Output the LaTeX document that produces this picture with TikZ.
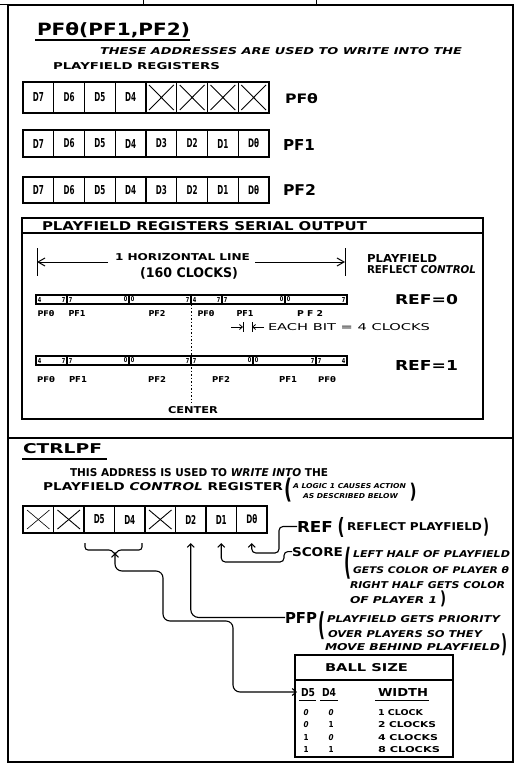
\documentclass[tikz,border=0pt]{standalone}
\usepackage{fontspec}
\setmainfont{DejaVu Sans}
\usepackage{graphicx}
\usetikzlibrary{arrows.meta,calc}
\newcommand{\tx}[3]{\resizebox{#1pt}{#2pt}{\bfseries #3}}
\newcommand{\txr}[3]{\resizebox{#1pt}{#2pt}{#3}}
\newcommand{\pa}[3]{\resizebox*{#1pt}{#2pt}{\bfseries #3}}
\newcommand{\dg}[1]{\resizebox{3.5pt}{5pt}{\bfseries #1}}
\tikzset{
  t/.style={anchor=base west, inner sep=0pt, outer sep=0pt},
  tc/.style={anchor=base, inner sep=0pt, outer sep=0pt},
  pc/.style={anchor=center, inner sep=0pt, outer sep=0pt},
  cellbox/.style={draw, line width=1.2pt, inner sep=0pt, outer sep=0pt},
  barseg/.style={draw, line width=1.1pt, minimum height=9pt, inner sep=0pt, outer sep=0pt},
  arr/.style={line width=1.1pt, -{Straight Barb[length=3.5pt,width=7pt]}, rounded corners=5pt},
  harr/.style={line width=1pt, -{Straight Barb[length=7pt,width=8pt]}},
  xl/.style={line width=0.9pt},
  fr/.style={line width=1.5pt},
}
\begin{document}
\begin{tikzpicture}[x=1pt,y=-1pt]
\useasboundingbox (0,0) rectangle (521,773);
\fill[white] (0,0) rectangle (521,773);
% frame
\draw[fr] (8,5) rectangle (513,762);
\draw[fr] (8,438) -- (513,438);
\draw[line width=1pt] (0,5) -- (8,5);
\draw[line width=0.8pt] (143,0) -- (143,5);
\draw[line width=0.8pt] (316,0) -- (316,5);

% ---------- top panel ----------
\node[t] (tTitle) at (37,36) {\tx{153}{13}{PFθ(PF1,PF2)}};
\draw[line width=1.2pt] (35,40) -- (190,40);
\node[t] (tThese) at (100,55) {\tx{362}{7}{\itshape THESE ADDRESSES ARE USED TO WRITE INTO THE}};
\node[t] (tPlay) at (53,70) {\tx{167}{7}{PLAYFIELD REGISTERS}};

% PF0 register
\foreach \i/\lab in {1/D7,2/D6,3/D5,4/D4}
  \node[cellbox, minimum width=30.75pt, minimum height=31pt] (a\i) at ({23+30.75*(\i-0.5)},97.5) {\tx{11}{9}{\lab}};
\foreach \i in {5,...,8} {
  \node[cellbox, minimum width=30.75pt, minimum height=31pt] (a\i) at ({23+30.75*(\i-0.5)},97.5) {};
  \draw[xl] ($(a\i.north west)+(3,3)$) -- ($(a\i.south east)+(-3,-3)$);
  \draw[xl] ($(a\i.north east)+(-3,3)$) -- ($(a\i.south west)+(3,-3)$);
}
\node[t] (lA) at (285,103) {\tx{33}{10}{PFθ}};

% PF1 register
\foreach \i/\lab in {1/D7,2/D6,3/D5,4/D4,5/D3,6/D2,7/D1,8/Dθ}
  \node[cellbox, minimum width=30.75pt, minimum height=27pt] (b\i) at ({23+30.75*(\i-0.5)},143.5) {\tx{11}{9}{\lab}};
\node[t] (lB) at (283,150) {\tx{32}{11}{PF1}};

% PF2 register
\foreach \i/\lab in {1/D7,2/D6,3/D5,4/D4,5/D3,6/D2,7/D1,8/Dθ}
  \node[cellbox, minimum width=30.75pt, minimum height=26pt] (c\i) at ({23+30.75*(\i-0.5)},190) {\tx{11}{9}{\lab}};
\node[t] (lC) at (283,195) {\tx{33}{11}{PF2}};

% ---------- serial output box ----------
\draw[line width=1.2pt] (22,218) rectangle (483,419);
\draw[line width=1.2pt] (22,233) -- (483,233);
\node[t] (tSer) at (42,230) {\tx{325}{9}{PLAYFIELD REGISTERS SERIAL OUTPUT}};

\draw[line width=1pt] (37,248) -- (37,276);
\draw[line width=1pt] (345,248) -- (345,276);
\coordinate (hL) at (37,262);
\coordinate (hR) at (345,262);
\coordinate (hLs) at (108,262);
\coordinate (hRs) at (255,262);
\draw[harr] (hLs) -- (hL);
\draw[harr] (hRs) -- (hR);
\node[t] (tHor) at (115,260) {\tx{135}{7}{1 HORIZONTAL LINE}};
\node[t] (tClk) at (140,277) {\tx{98}{10}{(160 CLOCKS)}};
\node[t] (tPlf) at (367,262) {\tx{70}{8}{PLAYFIELD}};
\node[t] (tRfc) at (367,273) {\tx{109}{8}{REFLECT \itshape CONTROL}};

% REF=0 bar
\foreach \i/\cx/\ww/\lft/\rgt in {1/51.5/31/4/7, 2/98/62/7/0, 3/160/62/0/7, 4/206.5/31/4/7, 5/253.5/63/7/0, 6/316/62/0/7} {
  \node[barseg, minimum width=\ww pt] (z0s\i) at (\cx,299.5) {};
  \node[pc] (z0l\i) at ($(z0s\i.west)+(3.5,0)$) {\dg{\lft}};
  \node[pc] (z0r\i) at ($(z0s\i.east)+(-3.5,0)$) {\dg{\rgt}};
}
\foreach \i/\cx/\lab in {1/46/PFθ, 2/77/PF1, 3/157/PF2, 4/206/PFθ, 5/245/PF1}
  \node[tc] (z0n\i) at (\cx,316) {\tx{17}{6}{\lab}};
\node[tc] (z0n6) at (310,316) {\tx{26}{6}{P F 2}};
\node[t] (tRef0) at (395,304) {\tx{63}{10}{REF=0}};

% each bit annotation
\draw[line width=0.8pt] (243,322) -- (243,332);
\draw[line width=0.8pt] (252,322) -- (252,332);
\coordinate (eA) at (231,327);
\coordinate (eB) at (243,327);
\coordinate (eC) at (264,327);
\coordinate (eD) at (252,327);
\draw[line width=0.8pt, -{Straight Barb[length=3pt,width=5pt]}] (eA) -- (eB);
\draw[line width=0.8pt, -{Straight Barb[length=3pt,width=5pt]}] (eC) -- (eD);
\node[t] (tEach) at (268,330) {\txr{162}{7}{EACH BIT = 4 CLOCKS}};

% REF=1 bar
\foreach \i/\cx/\ww/\lft/\rgt in {1/51.5/31/4/7, 2/98/62/7/0, 3/160/62/0/7, 4/222/62/7/0, 5/284.5/63/0/7, 6/331.5/31/7/4} {
  \node[barseg, minimum width=\ww pt] (z1s\i) at (\cx,360.5) {};
  \node[pc] (z1l\i) at ($(z1s\i.west)+(3.5,0)$) {\dg{\lft}};
  \node[pc] (z1r\i) at ($(z1s\i.east)+(-3.5,0)$) {\dg{\rgt}};
}
\foreach \i/\cx/\lab in {1/46/PFθ, 2/78/PF1, 3/157/PF2, 4/221/PF2, 5/288/PF1, 6/327/PFθ}
  \node[tc] (z1n\i) at (\cx,382) {\tx{18}{6}{\lab}};
\node[t] (tRef1) at (395,370) {\tx{63}{10}{REF=1}};

% center line
\node[t] (tCen) at (168,413) {\tx{50}{7}{CENTER}};
\coordinate (cenB) at (191,403);
\draw[line width=1pt, dash pattern=on 1.5pt off 2pt] (z0s4.south west) -- (cenB);

% ---------- lower panel ----------
\node[t] (tCtrl) at (23,453) {\tx{79}{10}{CTRLPF}};
\draw[line width=1.2pt] (22,459) -- (107,459);
\node[t] (tThis) at (70,476) {\tx{258}{8}{THIS ADDRESS IS USED TO {\itshape WRITE INTO} THE}};
\node[t] (tPCR) at (43,490) {\tx{240}{8}{PLAYFIELD {\itshape CONTROL} REGISTER}};
\node[pc] (pL1) at (288,490) {\pa{8}{24}{(}};
\node[t] (tLog) at (293,488) {\tx{113}{5}{\itshape A LOGIC 1 CAUSES ACTION}};
\node[t] (tDes) at (303,498) {\tx{95}{5}{\itshape AS DESCRIBED BELOW}};
\node[pc] (pR1) at (413,492) {\pa{7}{18}{)}};

% CTRLPF register
\foreach \i/\lab in {3/D5,4/D4,6/D2,7/D1,8/Dθ}
  \node[cellbox, minimum width=30.5pt, minimum height=27pt] (k\i) at ({23+30.5*(\i-0.5)},519.5) {\tx{11}{9}{\lab}};
\foreach \i in {1,2,5}
  \node[cellbox, minimum width=30.5pt, minimum height=27pt] (k\i) at ({23+30.5*(\i-0.5)},519.5) {};
\draw[line width=0.6pt] ($(k1.north west)+(4,4)$) -- ($(k1.south east)+(-4,-4)$);
\draw[line width=0.6pt] ($(k1.north east)+(-4,4)$) -- ($(k1.south west)+(4,-4)$);
\foreach \i in {2,5} {
  \draw[xl] ($(k\i.north west)+(4,4)$) -- ($(k\i.south east)+(-4,-4)$);
  \draw[xl] ($(k\i.north east)+(-4,4)$) -- ($(k\i.south west)+(4,-4)$);
}

% descriptions
\node[t] (tREF) at (297,532) {\tx{36}{11}{REF}};
\node[pc] (pL2) at (341,527) {\pa{7}{20}{(}};
\node[t] (tRfp) at (347,530) {\tx{135}{8}{REFLECT PLAYFIELD}};
\node[pc] (pR2) at (486,527) {\pa{6}{18}{)}};

\node[t] (tScore) at (292,556) {\tx{51}{9}{SCORE}};
\node[pc] (pL3) at (348,563) {\pa{7}{32}{(}};
\node[t] (tS1) at (353,557) {\tx{157}{7}{\itshape LEFT HALF OF PLAYFIELD}};
\node[t] (tS2) at (353,573) {\tx{156}{7}{\itshape GETS COLOR OF PLAYER θ}};
\node[t] (tS3) at (350,588) {\tx{155}{7}{\itshape RIGHT HALF GETS COLOR}};
\node[t] (tS4) at (350,603) {\tx{87}{7}{\itshape OF PLAYER 1}};
\node[pc] (pR3) at (443,599) {\pa{6}{16}{)}};

\node[t] (tPFP) at (285,623) {\tx{32}{11}{PFP}};
\node[pc] (pL4) at (322,626) {\pa{7}{28}{(}};
\node[t] (tP1) at (327,622) {\tx{173}{7}{\itshape PLAYFIELD GETS PRIORITY}};
\node[t] (tP2) at (328,637) {\tx{154}{7}{\itshape OVER PLAYERS SO THEY}};
\node[t] (tP3) at (325,650) {\tx{175}{7}{\itshape MOVE BEHIND PLAYFIELD}};
\node[pc] (pR4) at (504,645) {\pa{6}{22}{)}};

% ball size table
\draw[line width=1.2pt] (295,655) rectangle (453,757);
\draw[line width=1.2pt] (295,680) -- (453,680);
\node[t] (tBall) at (325,671) {\tx{83}{8}{BALL SIZE}};
\node[t] (tD5) at (301,696) {\tx{14}{8}{D5}};
\node[t] (tD4) at (322,696) {\tx{14}{8}{D4}};
\node[t] (tWid) at (378,696) {\tx{50}{8}{WIDTH}};
\draw[line width=1pt] (299,700) -- (316,700);
\draw[line width=1pt] (320,700) -- (338,700);
\draw[line width=1pt] (375,700) -- (429,700);
\foreach \i/\y/\aa/\bb/\w/\lab in {1/715/\itshape 0/\itshape 0/45/1 CLOCK, 2/727/\itshape 0/1/58/2 CLOCKS, 3/740/1/\itshape 0/60/4 CLOCKS, 4/752/1/1/62/8 CLOCKS} {
  \node[tc] (tRa\i) at (306,\y) {\tx{5}{6}{\aa}};
  \node[tc] (tRb\i) at (331,\y) {\tx{5}{6}{\bb}};
  \node[t] (tRc\i) at (378,\y) {\tx{\w}{6}{\lab}};
}

% connectors
\coordinate (aD0) at ($(k8.south)+(0,10)$);
\coordinate (aD1) at ($(k7.south)+(0,10)$);
\coordinate (aD2) at ($(k6.south)+(0,10)$);
\coordinate (aBr) at (115,553);
\coordinate (aTab) at (297,692);
\draw[arr, rounded corners=4pt] (tREF.west) -- (279,526.5) -- (279,553) -- (251.75,553) -- (aD0);
\draw[arr, rounded corners=4pt] (tScore.west) -- (284,551.5) -- (284,562) -- (221.25,562) -- (aD1);
\draw[arr, rounded corners=8pt] (tPFP.west) -- (190.75,617.5) -- (aD2);
\draw[line width=1.1pt, rounded corners=3pt] (85,543) |- (112,550) -- (115,555) -- (118,550) -| (142,543);
\draw[line width=1.1pt, {Straight Barb[length=3.5pt,width=7pt]}-{Straight Barb[length=4pt,width=7pt]}, rounded corners=7pt]
  (aBr) -- (115,571) -- (163,571) -- (163,621) -- (233,621) -- (233,692) -- (aTab);
\end{tikzpicture}
\end{document}
